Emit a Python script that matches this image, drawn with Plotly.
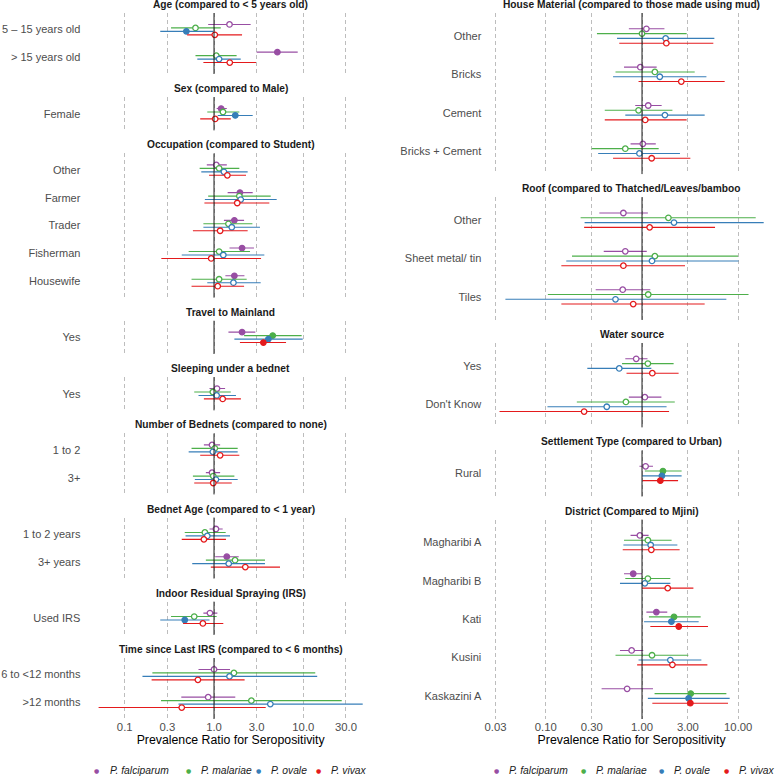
import math
import plotly.graph_objects as go

# ---------------- data ----------------
SPECIES = ["P. falciparum", "P. malariae", "P. ovale", "P. vivax"]
COLORS = ["#984EA3", "#4DAF4A", "#377EB8", "#E41A1C"]

FACETS_LEFT = [
    "Age (compared to < 5 years old)",
    "Sex (compared to Male)",
    "Occupation (compared to Student)",
    "Travel to Mainland",
    "Sleeping under a bednet",
    "Number of Bednets (compared to none)",
    "Bednet Age (compared to < 1 year)",
    "Indoor Residual Spraying (IRS)",
    "Time since Last IRS (compared to < 6 months)",
]
FACETS_RIGHT = [
    "House Material (compared to those made using mud)",
    "Roof (compared to Thatched/Leaves/bamboo",
    "Water source",
    "Settlement Type (compared to Urban)",
    "District (Compared to Mjini)",
]

FACET = (
    [FACETS_LEFT[0]] * 2 + [FACETS_LEFT[1]] * 1 + [FACETS_LEFT[2]] * 5 + [FACETS_LEFT[3]] * 1
    + [FACETS_LEFT[4]] * 1 + [FACETS_LEFT[5]] * 2 + [FACETS_LEFT[6]] * 2 + [FACETS_LEFT[7]] * 1
    + [FACETS_LEFT[8]] * 2
    + [FACETS_RIGHT[0]] * 4 + [FACETS_RIGHT[1]] * 3 + [FACETS_RIGHT[2]] * 2 + [FACETS_RIGHT[3]] * 1
    + [FACETS_RIGHT[4]] * 5
)
CATEGORY = [
    "5 – 15 years old", "> 15 years old",
    "Female",
    "Other", "Farmer", "Trader", "Fisherman", "Housewife",
    "Yes",
    "Yes",
    "1 to 2", "3+",
    "1 to 2 years", "3+ years",
    "Used IRS",
    "6 to <12 months", ">12 months",
    "Other", "Bricks", "Cement", "Bricks + Cement",
    "Other", "Sheet metal/ tin", "Tiles",
    "Yes", "Don't Know",
    "Rural",
    "Magharibi A", "Magharibi B", "Kati", "Kusini", "Kaskazini A",
]

# P. falciparum
PF_EST = [1.49, 5.12, 1.20, 1.06, 1.95, 1.69, 2.06, 1.69, 2.06, 1.08, 0.95, 0.95, 1.05, 1.39, 0.90, 1.00, 0.86,
          1.11, 0.96, 1.16, 1.02, 0.64, 0.67, 0.63, 0.87, 1.07, 1.09, 0.95, 0.81, 1.41, 0.78, 0.70]
PF_LO = [0.86, 3.00, 1.07, 0.83, 1.42, 1.29, 1.49, 1.34, 1.45, 0.89, 0.77, 0.81, 0.89, 1.03, 0.76, 0.67, 0.43,
         0.73, 0.65, 0.85, 0.76, 0.36, 0.40, 0.33, 0.67, 0.73, 0.94, 0.76, 0.65, 1.11, 0.59, 0.38]
PF_HI = [2.57, 8.65, 1.39, 1.39, 2.71, 2.17, 2.80, 2.19, 2.90, 1.33, 1.17, 1.17, 1.25, 1.89, 1.09, 1.51, 1.73,
         1.71, 1.42, 1.60, 1.39, 1.15, 1.12, 1.22, 1.14, 1.59, 1.30, 1.17, 1.00, 1.83, 1.03, 1.30]
PF_SIG = [0, 1, 1, 0, 1, 1, 1, 1, 1, 0, 0, 0, 0, 1, 0, 0, 0,
          0, 0, 0, 0, 0, 0, 0, 0, 0, 0, 0, 1, 1, 0, 0]

# P. malariae
PM_EST = [0.62, 1.06, 1.26, 1.14, 1.92, 1.45, 1.14, 1.14, 4.54, 0.97, 1.02, 0.98, 0.79, 1.72, 0.60, 1.67, 2.62,
          1.00, 1.36, 0.92, 0.67, 1.88, 1.36, 1.16, 1.15, 0.68, 1.65, 1.15, 1.15, 2.15, 1.27, 3.21]
PM_LO = [0.33, 0.62, 0.84, 0.69, 0.86, 0.76, 0.52, 0.56, 2.17, 0.60, 0.56, 0.58, 0.47, 0.81, 0.33, 0.204, 0.255,
         0.34, 0.53, 0.41, 0.30, 0.23, 0.187, 0.105, 0.62, 0.21, 1.07, 0.65, 0.67, 1.18, 0.53, 1.35]
PM_HI = [1.19, 1.79, 1.92, 1.92, 4.31, 2.69, 2.53, 2.32, 9.58, 1.54, 1.84, 1.69, 1.35, 3.72, 1.07, 13.6, 26.9,
         2.91, 3.53, 2.07, 1.49, 15.2, 9.95, 12.8, 2.13, 2.19, 2.58, 2.03, 1.97, 4.07, 3.03, 7.53]
PM_SIG = [0, 0, 0, 0, 0, 0, 0, 0, 1, 0, 0, 0, 0, 0, 0, 0, 0,
          0, 0, 0, 0, 0, 0, 0, 0, 0, 1, 0, 0, 1, 0, 1]

# P. ovale
PO_EST = [0.49, 1.14, 1.73, 1.29, 1.99, 1.58, 1.27, 1.65, 4.06, 1.07, 0.97, 1.05, 0.84, 1.46, 0.47, 1.49, 4.27,
          1.76, 1.53, 1.73, 0.94, 2.15, 1.27, 0.53, 0.58, 0.43, 1.61, 1.23, 1.07, 2.02, 1.97, 3.05]
PO_LO = [0.25, 0.65, 1.10, 0.72, 0.79, 0.76, 0.435, 0.84, 1.69, 0.67, 0.52, 0.61, 0.48, 0.57, 0.25, 0.158, 0.40,
         0.55, 0.50, 0.67, 0.35, 0.253, 0.163, 0.038, 0.27, 0.104, 1.00, 0.64, 0.59, 1.05, 0.92, 1.15]
PO_HI = [0.98, 1.99, 2.71, 2.38, 5.03, 3.27, 3.66, 3.33, 9.84, 1.76, 1.84, 1.84, 1.51, 3.72, 0.89, 14.3, 46.2,
         5.65, 4.67, 4.48, 2.48, 18.4, 10.1, 7.53, 1.25, 1.80, 2.58, 2.33, 1.97, 3.88, 4.14, 8.15]
PO_SIG = [1, 0, 1, 0, 0, 0, 0, 0, 1, 0, 0, 0, 0, 0, 1, 0, 0,
          0, 0, 0, 0, 0, 0, 0, 0, 0, 1, 0, 0, 1, 0, 1]

# P. vivax
PV_EST = [1.02, 1.50, 1.03, 1.41, 1.82, 1.17, 0.93, 1.10, 3.57, 1.25, 1.17, 0.98, 0.77, 2.24, 0.75, 0.66, 0.435,
          1.79, 2.56, 1.08, 1.26, 1.20, 0.64, 0.81, 1.28, 0.25, 1.55, 1.25, 1.85, 2.41, 2.07, 3.18]
PV_LO = [0.50, 0.76, 0.70, 0.88, 0.78, 0.58, 0.257, 0.56, 1.95, 0.77, 0.70, 0.60, 0.435, 0.92, 0.45, 0.20, 0.051,
         0.58, 0.92, 0.41, 0.50, 0.25, 0.145, 0.145, 0.69, 0.033, 1.01, 0.63, 1.00, 1.22, 0.89, 1.28]
PV_HI = [2.06, 2.95, 1.54, 2.28, 4.16, 2.38, 3.36, 2.17, 6.40, 2.00, 1.92, 1.58, 1.36, 5.48, 1.27, 2.20, 3.79,
         5.51, 7.23, 2.91, 3.18, 5.74, 2.80, 4.48, 2.40, 1.91, 2.37, 2.46, 3.42, 4.85, 4.78, 7.83]
PV_SIG = [0, 0, 0, 0, 0, 0, 0, 0, 1, 0, 0, 0, 0, 0, 0, 0, 0,
          0, 0, 0, 0, 0, 0, 0, 0, 0, 1, 0, 0, 1, 0, 1]

TICKS_LEFT = [0.1, 0.3, 1, 3, 10, 30]
TICKTEXT_LEFT = ["0.1", "0.3", "1.0", "3.0", "10.0", "30.0"]
TICKS_RIGHT = [0.03, 0.1, 0.3, 1, 3, 10]
TICKTEXT_RIGHT = ["0.03", "0.10", "0.30", "1.00", "3.00", "10.00"]
AXIS_TITLE = "Prevalence Ratio for Seropositivity"

SERIES = [
    (PF_EST, PF_LO, PF_HI, PF_SIG),
    (PM_EST, PM_LO, PM_HI, PM_SIG),
    (PO_EST, PO_LO, PO_HI, PO_SIG),
    (PV_EST, PV_LO, PV_HI, PV_SIG),
]

# ---------------- layout geometry (pixels) ----------------
W, H = 777, 776
TOP_PX, BOTTOM_PX, GAP_PX = 13.0, 719.0, 23.1
DODGE = 0.125
FONT = "Liberation Sans, Arial, Helvetica, sans-serif"
LEGEND_Y_PX = 770

COLUMNS = [
    dict(facets=FACETS_LEFT, ticks=TICKS_LEFT, ticktext=TICKTEXT_LEFT, px0=85.4, px1=375.9,
         key_x=[96.7, 188.3, 258.3, 318.3]),
    dict(facets=FACETS_RIGHT, ticks=TICKS_RIGHT, ticktext=TICKTEXT_RIGHT, px0=486.3, px1=776.9,
         key_x=[496.3, 583.0, 661.3, 726.3]),
]

fig = go.Figure()
layout = {}
shapes = []
annotations = []
axis_i = 0

for col in COLUMNS:
    rows = [i for i, f in enumerate(FACET) if f in col["facets"]]
    # log range with 5% expansion, like ggplot
    lo = min(math.log10(s[1][i]) for s in SERIES for i in rows)
    hi = max(math.log10(s[2][i]) for s in SERIES for i in rows)
    pad = 0.05 * (hi - lo)
    xrange = [lo - pad, hi + pad]

    counts = [sum(1 for i in rows if FACET[i] == f) for f in col["facets"]]
    units = sum(n + 0.2 for n in counts)
    unit_px = (BOTTOM_PX - TOP_PX - GAP_PX * (len(counts) - 1)) / units

    top = TOP_PX
    xd = [col["px0"] / W, min(col["px1"] / W, 1.0)]
    xc = (col["px0"] + col["px1"]) / 2 / W
    for fi, (fname, n) in enumerate(zip(col["facets"], counts)):
        axis_i += 1
        sx = "" if axis_i == 1 else str(axis_i)
        bottom = top + (n + 0.2) * unit_px
        cats = [CATEGORY[i] for i in rows if FACET[i] == fname]
        idx = [i for i in rows if FACET[i] == fname]
        last = fi == len(counts) - 1

        layout["xaxis" + sx] = dict(
            type="log", range=xrange, domain=xd, anchor="y" + sx,
            tickvals=col["ticks"], ticktext=col["ticktext"],
            showticklabels=last, ticks="", showline=False, zeroline=False,
            showgrid=True, gridcolor="#BDBDBD", gridwidth=0.9, griddash="4px,3px",
            tickfont=dict(family=FONT, size=11.3, color="#4D4D4D"),
            title=dict(text=AXIS_TITLE if last else "", font=dict(family=FONT, size=12.3, color="#000000"),
                       standoff=2),
            fixedrange=True,
        )
        layout["yaxis" + sx] = dict(
            domain=[1 - bottom / H, 1 - top / H], anchor="x" + sx,
            range=[n - 1 + 0.6, -0.6], tickvals=list(range(n)), ticktext=cats,
            showgrid=False, zeroline=False, showline=False, ticks="",
            ticklabelstandoff=4,
            tickfont=dict(family=FONT, size=11, color="#4D4D4D"),
            fixedrange=True,
        )
        shapes.append(dict(type="line", xref="x" + sx, yref="y" + sx + " domain",
                           x0=1, x1=1, y0=0, y1=1, line=dict(color="#1A1A1A", width=1), layer="above"))
        annotations.append(dict(text=fname, xref="paper", yref="paper", x=xc, y=1 - (top - 8.5) / H,
                                xanchor="center", yanchor="middle", showarrow=False,
                                font=dict(family=FONT, size=10.2, color="#1A1A1A", weight="bold")))

        for k, (est, lo_, hi_, sig) in enumerate(SERIES):
            e = [est[i] for i in idx]
            l = [lo_[i] for i in idx]
            h = [hi_[i] for i in idx]
            s = [sig[i] for i in idx]
            fig.add_trace(go.Scatter(
                x=e, y=[j + (k - 1.5) * DODGE for j in range(n)],
                xaxis="x" + sx, yaxis="y" + sx, mode="markers", showlegend=False,
                name=SPECIES[k],
                error_x=dict(type="data", symmetric=False,
                             array=[hh - ee for hh, ee in zip(h, e)],
                             arrayminus=[ee - ll for ee, ll in zip(e, l)],
                             color=COLORS[k], thickness=1.1, width=0),
                marker=dict(symbol="circle", size=5.5,
                            color=[COLORS[k] if v else "#FFFFFF" for v in s],
                            line=dict(color=COLORS[k], width=1.3)),
                hovertemplate="%{x}<extra></extra>",
            ))
        top = bottom + GAP_PX

    # legend keys (one legend under each column)
    for k in range(4):
        annotations.append(dict(text="●", xref="paper", yref="paper", x=col["key_x"][k] / W,
                                y=1 - LEGEND_Y_PX / H, xanchor="center", yanchor="middle",
                                showarrow=False, font=dict(family="DejaVu Sans", size=6, color=COLORS[k])))
        annotations.append(dict(text=SPECIES[k], xref="paper", yref="paper",
                                x=(col["key_x"][k] + 11) / W, y=1 - LEGEND_Y_PX / H,
                                xanchor="left", yanchor="middle", showarrow=False,
                                font=dict(family=FONT, size=10.3, color="#1A1A1A", style="italic")))

fig.update_layout(
    width=W, height=H, margin=dict(l=0, r=0, t=0, b=0, autoexpand=False),
    paper_bgcolor="white", plot_bgcolor="white",
    shapes=shapes, annotations=annotations, showlegend=False,
    **layout,
)

fig.write_html("out.html")
